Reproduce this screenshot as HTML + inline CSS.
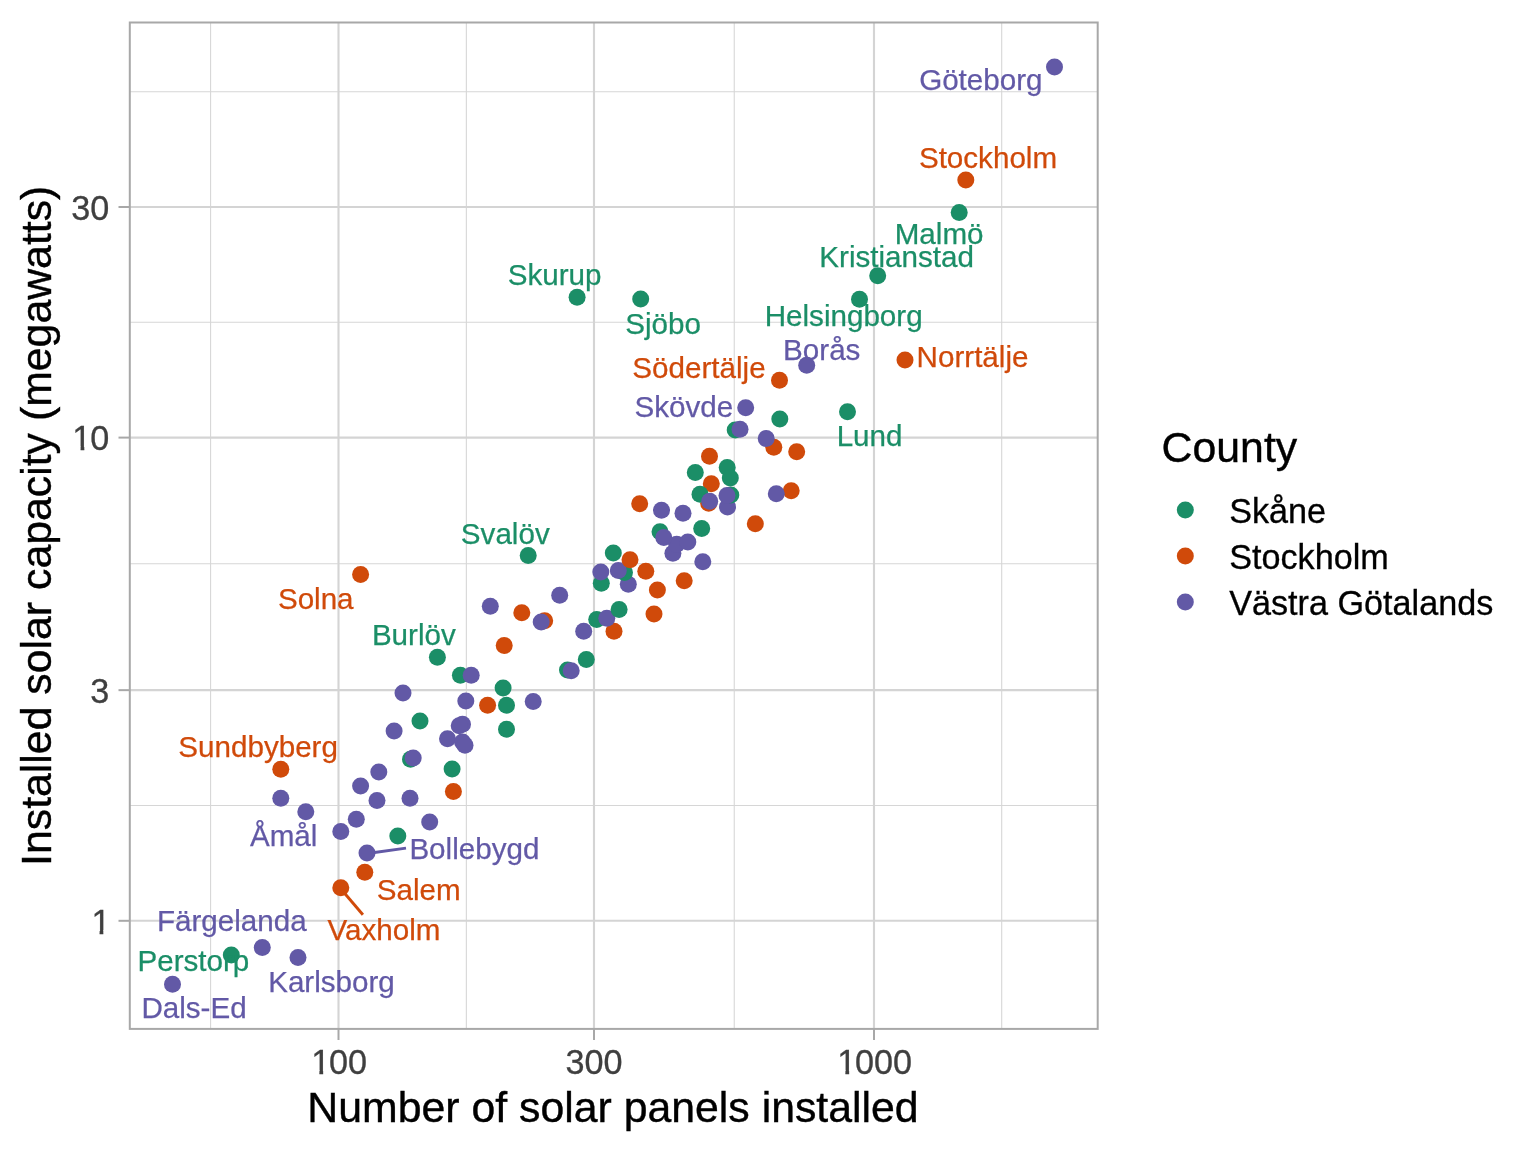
<!DOCTYPE html>
<html lang="sv"><head><meta charset="utf-8"><title>Solar panels</title>
<style>
html,body{margin:0;padding:0;background:#fff;}
body{width:1536px;height:1152px;overflow:hidden;}
svg{display:block;font-family:"Liberation Sans",Arial,Helvetica,sans-serif;}
</style></head><body>
<svg width="1536" height="1152" viewBox="0 0 1536 1152">
<rect width="1536" height="1152" fill="#fff"/>
<g stroke="#D6D6D6" stroke-width="1.07" fill="none"><line x1="210.6" y1="22.5" x2="210.6" y2="1028.9"/><line x1="466.35" y1="22.5" x2="466.35" y2="1028.9"/><line x1="734.25" y1="22.5" x2="734.25" y2="1028.9"/><line x1="1001.7" y1="22.5" x2="1001.7" y2="1028.9"/><line x1="129.8" y1="91.7" x2="1097.7" y2="91.7"/><line x1="129.8" y1="322.3" x2="1097.7" y2="322.3"/><line x1="129.8" y1="563.8" x2="1097.7" y2="563.8"/><line x1="129.8" y1="805.5" x2="1097.7" y2="805.5"/></g>
<g stroke="#D4D4D4" stroke-width="2.13" fill="none"><line x1="338.5" y1="22.5" x2="338.5" y2="1028.9"/><line x1="594.0" y1="22.5" x2="594.0" y2="1028.9"/><line x1="874.0" y1="22.5" x2="874.0" y2="1028.9"/><line x1="129.8" y1="207.0" x2="1097.7" y2="207.0"/><line x1="129.8" y1="437.6" x2="1097.7" y2="437.6"/><line x1="129.8" y1="690.15" x2="1097.7" y2="690.15"/><line x1="129.8" y1="920.8" x2="1097.7" y2="920.8"/></g>
<g stroke="none"><circle cx="172.5" cy="984.2" r="8.5" fill="#6259A6"/><circle cx="231.3" cy="955" r="8.5" fill="#1B8E67"/><circle cx="262.3" cy="947.6" r="8.5" fill="#6259A6"/><circle cx="298" cy="957.4" r="8.5" fill="#6259A6"/><circle cx="340.8" cy="887.8" r="8.5" fill="#D04A0A"/><circle cx="364.8" cy="872.3" r="8.5" fill="#D04A0A"/><circle cx="367" cy="853" r="8.5" fill="#6259A6"/><circle cx="397.8" cy="836" r="8.5" fill="#1B8E67"/><circle cx="340.8" cy="831.5" r="8.5" fill="#6259A6"/><circle cx="356.3" cy="819.3" r="8.5" fill="#6259A6"/><circle cx="429.7" cy="822" r="8.5" fill="#6259A6"/><circle cx="305.8" cy="811.8" r="8.5" fill="#6259A6"/><circle cx="280.8" cy="798.3" r="8.5" fill="#6259A6"/><circle cx="377" cy="800.6" r="8.5" fill="#6259A6"/><circle cx="410" cy="798.3" r="8.5" fill="#6259A6"/><circle cx="453.4" cy="791.5" r="8.5" fill="#D04A0A"/><circle cx="360.6" cy="786" r="8.5" fill="#6259A6"/><circle cx="378.8" cy="772.1" r="8.5" fill="#6259A6"/><circle cx="280.8" cy="769.3" r="8.5" fill="#D04A0A"/><circle cx="452.1" cy="768.9" r="8.5" fill="#1B8E67"/><circle cx="410.5" cy="759.2" r="8.5" fill="#1B8E67"/><circle cx="413.2" cy="758" r="8.5" fill="#6259A6"/><circle cx="447.5" cy="738.7" r="8.5" fill="#6259A6"/><circle cx="462.5" cy="742" r="8.5" fill="#6259A6"/><circle cx="465" cy="745.3" r="8.5" fill="#6259A6"/><circle cx="394.1" cy="730.9" r="8.5" fill="#6259A6"/><circle cx="462.5" cy="724.2" r="8.5" fill="#6259A6"/><circle cx="459.2" cy="725.8" r="8.5" fill="#6259A6"/><circle cx="506.5" cy="729.2" r="8.5" fill="#1B8E67"/><circle cx="420" cy="721" r="8.5" fill="#1B8E67"/><circle cx="465.8" cy="700.9" r="8.5" fill="#6259A6"/><circle cx="487.6" cy="705.2" r="8.5" fill="#D04A0A"/><circle cx="506.5" cy="705.3" r="8.5" fill="#1B8E67"/><circle cx="533.2" cy="701.5" r="8.5" fill="#6259A6"/><circle cx="403" cy="693" r="8.5" fill="#6259A6"/><circle cx="503.1" cy="688" r="8.5" fill="#1B8E67"/><circle cx="460.4" cy="675.3" r="8.5" fill="#1B8E67"/><circle cx="471.2" cy="675.3" r="8.5" fill="#6259A6"/><circle cx="567.5" cy="670" r="8.5" fill="#1B8E67"/><circle cx="571.2" cy="670.8" r="8.5" fill="#6259A6"/><circle cx="586.3" cy="659.5" r="8.5" fill="#1B8E67"/><circle cx="437.4" cy="657.2" r="8.5" fill="#1B8E67"/><circle cx="504.2" cy="645.5" r="8.5" fill="#D04A0A"/><circle cx="583.7" cy="631.2" r="8.5" fill="#6259A6"/><circle cx="614" cy="631.3" r="8.5" fill="#D04A0A"/><circle cx="596.7" cy="619.5" r="8.5" fill="#1B8E67"/><circle cx="606.8" cy="618.3" r="8.5" fill="#6259A6"/><circle cx="544.7" cy="620.8" r="8.5" fill="#D04A0A"/><circle cx="541.2" cy="622" r="8.5" fill="#6259A6"/><circle cx="521.8" cy="612.7" r="8.5" fill="#D04A0A"/><circle cx="654" cy="614" r="8.5" fill="#D04A0A"/><circle cx="619.1" cy="609.4" r="8.5" fill="#1B8E67"/><circle cx="490.3" cy="606.3" r="8.5" fill="#6259A6"/><circle cx="559.7" cy="595.3" r="8.5" fill="#6259A6"/><circle cx="657.4" cy="590" r="8.5" fill="#D04A0A"/><circle cx="628.3" cy="584.2" r="8.5" fill="#6259A6"/><circle cx="601.3" cy="583.3" r="8.5" fill="#1B8E67"/><circle cx="600.8" cy="572" r="8.5" fill="#6259A6"/><circle cx="684.2" cy="580.8" r="8.5" fill="#D04A0A"/><circle cx="624.5" cy="572.5" r="8.5" fill="#1B8E67"/><circle cx="618.3" cy="570.5" r="8.5" fill="#6259A6"/><circle cx="645.8" cy="571.3" r="8.5" fill="#D04A0A"/><circle cx="613.3" cy="553" r="8.5" fill="#1B8E67"/><circle cx="630" cy="559.7" r="8.5" fill="#D04A0A"/><circle cx="528.2" cy="555.4" r="8.5" fill="#1B8E67"/><circle cx="360.6" cy="574.6" r="8.5" fill="#D04A0A"/><circle cx="702.8" cy="561.7" r="8.5" fill="#6259A6"/><circle cx="672.9" cy="553.3" r="8.5" fill="#6259A6"/><circle cx="676.7" cy="544.2" r="8.5" fill="#6259A6"/><circle cx="687.8" cy="542" r="8.5" fill="#6259A6"/><circle cx="660" cy="531.7" r="8.5" fill="#1B8E67"/><circle cx="663.8" cy="537.5" r="8.5" fill="#6259A6"/><circle cx="701.7" cy="528.5" r="8.5" fill="#1B8E67"/><circle cx="755.3" cy="523.7" r="8.5" fill="#D04A0A"/><circle cx="683" cy="513.3" r="8.5" fill="#6259A6"/><circle cx="661.5" cy="510.2" r="8.5" fill="#6259A6"/><circle cx="639.7" cy="503.7" r="8.5" fill="#D04A0A"/><circle cx="727.5" cy="507" r="8.5" fill="#6259A6"/><circle cx="708.7" cy="503.3" r="8.5" fill="#D04A0A"/><circle cx="711.3" cy="483.8" r="8.5" fill="#D04A0A"/><circle cx="700" cy="494.2" r="8.5" fill="#1B8E67"/><circle cx="709.7" cy="501.3" r="8.5" fill="#6259A6"/><circle cx="730.8" cy="495" r="8.5" fill="#1B8E67"/><circle cx="727" cy="495.5" r="8.5" fill="#6259A6"/><circle cx="791.2" cy="490.8" r="8.5" fill="#D04A0A"/><circle cx="776.3" cy="493.8" r="8.5" fill="#6259A6"/><circle cx="727.2" cy="467.5" r="8.5" fill="#1B8E67"/><circle cx="730.3" cy="478" r="8.5" fill="#1B8E67"/><circle cx="695.3" cy="472.5" r="8.5" fill="#1B8E67"/><circle cx="709.5" cy="456.3" r="8.5" fill="#D04A0A"/><circle cx="796.7" cy="451.7" r="8.5" fill="#D04A0A"/><circle cx="773.8" cy="447.2" r="8.5" fill="#D04A0A"/><circle cx="766.2" cy="438.5" r="8.5" fill="#6259A6"/><circle cx="735.2" cy="430" r="8.5" fill="#1B8E67"/><circle cx="740" cy="429.2" r="8.5" fill="#6259A6"/><circle cx="779.8" cy="418.9" r="8.5" fill="#1B8E67"/><circle cx="847.5" cy="411.7" r="8.5" fill="#1B8E67"/><circle cx="745.7" cy="407.7" r="8.5" fill="#6259A6"/><circle cx="779.5" cy="380.3" r="8.5" fill="#D04A0A"/><circle cx="806.7" cy="365.3" r="8.5" fill="#6259A6"/><circle cx="905" cy="360" r="8.5" fill="#D04A0A"/><circle cx="859.5" cy="299.2" r="8.5" fill="#1B8E67"/><circle cx="877.7" cy="275.8" r="8.5" fill="#1B8E67"/><circle cx="640.7" cy="299" r="8.5" fill="#1B8E67"/><circle cx="577.1" cy="297.2" r="8.5" fill="#1B8E67"/><circle cx="959.2" cy="212.6" r="8.5" fill="#1B8E67"/><circle cx="965.8" cy="180" r="8.5" fill="#D04A0A"/><circle cx="1054.5" cy="67" r="8.5" fill="#6259A6"/></g>
<line x1="374.5" y1="852.5" x2="406" y2="848.15" stroke="#6259A6" stroke-width="2.9"/><line x1="345" y1="893.75" x2="362.9" y2="914.7" stroke="#D04A0A" stroke-width="2.9"/>
<g font-size="29.6" stroke-width="0.25"><text x="919.13" y="89.70" fill="#6259A6" stroke="#6259A6">Göteborg</text><text x="918.91" y="167.90" fill="#D04A0A" stroke="#D04A0A">Stockholm</text><text x="894.73" y="244.20" fill="#1B8E67" stroke="#1B8E67">Malmö</text><text x="819.32" y="267.30" fill="#1B8E67" stroke="#1B8E67">Kristianstad</text><text x="764.71" y="326.40" fill="#1B8E67" stroke="#1B8E67">Helsingborg</text><text x="783.11" y="360.10" fill="#6259A6" stroke="#6259A6">Borås</text><text x="916.61" y="367.40" fill="#D04A0A" stroke="#D04A0A">Norrtälje</text><text x="836.66" y="446.20" fill="#1B8E67" stroke="#1B8E67">Lund</text><text x="632.35" y="377.60" fill="#D04A0A" stroke="#D04A0A">Södertälje</text><text x="634.49" y="416.70" fill="#6259A6" stroke="#6259A6">Skövde</text><text x="507.71" y="285.20" fill="#1B8E67" stroke="#1B8E67">Skurup</text><text x="625.31" y="334.30" fill="#1B8E67" stroke="#1B8E67">Sjöbo</text><text x="460.86" y="544.00" fill="#1B8E67" stroke="#1B8E67">Svalöv</text><text x="277.90" y="609.30" fill="#D04A0A" stroke="#D04A0A">Solna</text><text x="371.88" y="645.30" fill="#1B8E67" stroke="#1B8E67">Burlöv</text><text x="178.34" y="757.15" fill="#D04A0A" stroke="#D04A0A">Sundbyberg</text><text x="249.94" y="846.15" fill="#6259A6" stroke="#6259A6">Åmål</text><text x="409.38" y="859.00" fill="#6259A6" stroke="#6259A6">Bollebygd</text><text x="376.84" y="900.40" fill="#D04A0A" stroke="#D04A0A">Salem</text><text x="327.48" y="940.20" fill="#D04A0A" stroke="#D04A0A">Vaxholm</text><text x="156.94" y="930.90" fill="#6259A6" stroke="#6259A6">Färgelanda</text><text x="268.16" y="992.15" fill="#6259A6" stroke="#6259A6">Karlsborg</text><text x="137.46" y="971.40" fill="#1B8E67" stroke="#1B8E67">Perstorp</text><text x="141.41" y="1017.90" fill="#6259A6" stroke="#6259A6">Dals-Ed</text></g>
<rect x="129.8" y="22.5" width="967.9" height="1006.4" fill="none" stroke="#A8A8A8" stroke-width="2"/>
<g stroke="#A8A8A8" stroke-width="2"><line x1="338.5" y1="1028.9" x2="338.5" y2="1040"/><line x1="594.0" y1="1028.9" x2="594.0" y2="1040"/><line x1="874.0" y1="1028.9" x2="874.0" y2="1040"/><line x1="118.5" y1="207.0" x2="129.8" y2="207.0"/><line x1="118.5" y1="437.6" x2="129.8" y2="437.6"/><line x1="118.5" y1="690.15" x2="129.8" y2="690.15"/><line x1="118.5" y1="920.8" x2="129.8" y2="920.8"/></g>
<defs><clipPath id="k100"><rect x="0" y="1033.8" width="1536" height="36.50"/><rect x="319.40" y="1069.3" width="3.75" height="8"/><rect x="329.00" y="1069.3" width="120" height="8"/></clipPath><clipPath id="k1000"><rect x="0" y="1033.8" width="1536" height="36.50"/><rect x="845.40" y="1069.3" width="3.75" height="8"/><rect x="855.00" y="1069.3" width="120" height="8"/></clipPath><clipPath id="k10"><rect x="0" y="409.9" width="1536" height="36.50"/><rect x="80.60" y="445.4" width="3.70" height="8"/><rect x="90.20" y="445.4" width="120" height="8"/></clipPath><clipPath id="k1"><rect x="0" y="893.8" width="1536" height="36.50"/><rect x="99.60" y="929.3" width="3.70" height="8"/></clipPath></defs>
<g font-size="34.2" fill="#3F3F3F" stroke="#3F3F3F" stroke-width="0.3"><g clip-path="url(#k100)"><text transform="translate(311.17,1073.8) scale(1,1.05)">1</text></g><text transform="translate(328.99,1073.8) scale(1,1.05)">00</text><text transform="translate(565.47,1073.8) scale(1,1.05)">300</text><g clip-path="url(#k1000)"><text transform="translate(837.16,1073.8) scale(1,1.05)">1</text></g><text transform="translate(854.98,1073.8) scale(1,1.05)">000</text><text transform="translate(71.16,220.2) scale(1,1.05)">30</text><g clip-path="url(#k10)"><text transform="translate(72.36,449.9) scale(1,1.05)">1</text></g><text transform="translate(90.18,449.9) scale(1,1.05)">0</text><text transform="translate(90.18,703.1) scale(1,1.05)">3</text><g clip-path="url(#k1)"><text transform="translate(91.38,933.8) scale(1,1.05)">1</text></g></g>
<text x="613" y="1121.7" font-size="42.8" text-anchor="middle" fill="#000" stroke="#000" stroke-width="0.4">Number of solar panels installed</text>
<text transform="translate(51,525.8) rotate(-90)" font-size="42.8" text-anchor="middle" fill="#000" stroke="#000" stroke-width="0.4">Installed solar capacity (megawatts)</text>
<text x="1161.6" y="462.3" font-size="42.8" fill="#000" stroke="#000" stroke-width="0.4">County</text>
<circle cx="1185.3" cy="510" r="8.5" fill="#1B8E67"/><text x="1229.2" y="523.0" font-size="34.2" fill="#000" stroke="#000" stroke-width="0.3">Skåne</text>
<circle cx="1185.3" cy="556" r="8.5" fill="#D04A0A"/><text x="1229.2" y="569.0" font-size="34.2" fill="#000" stroke="#000" stroke-width="0.3">Stockholm</text>
<circle cx="1185.3" cy="602" r="8.5" fill="#6259A6"/><text x="1229.2" y="615.0" font-size="34.2" fill="#000" stroke="#000" stroke-width="0.3">Västra Götalands</text>
</svg></body></html>
